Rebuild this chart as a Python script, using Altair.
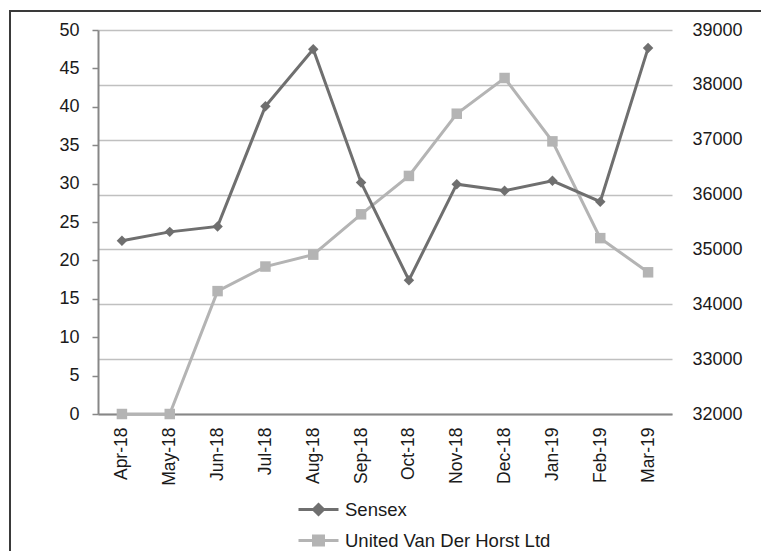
import altair as alt
import pandas as pd

months = ["Apr-18", "May-18", "Jun-18", "Jul-18", "Aug-18", "Sep-18",
          "Oct-18", "Nov-18", "Dec-18", "Jan-19", "Feb-19", "Mar-19"]
sensex = [35160, 35320, 35420, 37610, 38650, 36220,
          34440, 36190, 36070, 36250, 35870, 38670]
united = [0, 0, 16.0, 19.2, 20.75, 26.0, 31.0, 39.1, 43.75, 35.5, 22.9, 18.45]
series = ["Sensex", "United Van Der Horst Ltd"]
colors = ["#6f6f6f", "#b4b4b4"]
left_ticks = list(range(0, 51, 5))
right_ticks = list(range(32000, 39001, 1000))

FONT = "Liberation Sans"
TXT = "#1a1a1a"
AXIS_GREY = "#878787"

df = pd.DataFrame({"month": months, "sensex": sensex, "united": united})
legend_df = pd.DataFrame({"series": series})

diamond_path = "M-2,0H2M-0.5,0L0,-0.5L0.5,0L0,0.5Z"
square_path = "M-2,0H2M-0.5,-0.45H0.5V0.45H-0.5Z"

legend = alt.Legend(
    title=None, orient="none", legendX=209, legendY=468, padding=0,
    direction="vertical", symbolSize=400, symbolStrokeWidth=3,
    symbolOpacity=1, labelOffset=15, rowPadding=8, labelFont=FONT,
    labelFontSize=18.5, labelColor=TXT, labelLimit=400,
)

x_enc = alt.X("month:O", sort=months, title=None, scale=alt.Scale(padding=0.5),
              axis=alt.Axis(labelAngle=-90, ticks=False, labelPadding=13,
                            domainColor=AXIS_GREY, domainWidth=2, grid=False,
                            labelFont=FONT, labelFontSize=17.5, labelColor=TXT))

y_sensex = alt.Y("sensex:Q", title=None,
                 scale=alt.Scale(domain=[32000, 39000], nice=False, zero=False),
                 axis=alt.Axis(orient="right", values=right_ticks, format="d",
                               domain=False, ticks=False, labelPadding=20,
                               grid=True, gridColor="#c0c0c0", gridWidth=1.5,
                               labelFont=FONT, labelFontSize=18, labelColor=TXT))
y_united = alt.Y("united:Q", title=None,
                 scale=alt.Scale(domain=[0, 50], nice=False),
                 axis=alt.Axis(orient="left", values=left_ticks, grid=False,
                               domainColor=AXIS_GREY, domainWidth=2,
                               tickColor=AXIS_GREY, tickWidth=1.5, tickSize=6,
                               labelPadding=13, labelFont=FONT, labelFontSize=18,
                               labelColor=TXT))

base = alt.Chart(df)

sensex_line = base.mark_line(color=colors[0], strokeWidth=3).encode(x=x_enc, y=y_sensex)
sensex_pts = base.mark_point(filled=True, shape="diamond", size=110, opacity=1,
                             color=colors[0]).encode(x=x_enc, y=y_sensex)
sensex_layer = alt.layer(sensex_line, sensex_pts)

united_line = base.mark_line(color=colors[1], strokeWidth=3).encode(x=x_enc, y=y_united)
united_pts = base.mark_point(filled=True, shape="square", size=110, opacity=1,
                             color=colors[1]).encode(x=x_enc, y=y_united)
united_layer = alt.layer(united_line, united_pts)

legend_layer = alt.Chart(legend_df).mark_point(filled=True, opacity=1).encode(
    x=alt.value(-2000), y=alt.value(-2000),
    fill=alt.Fill("series:N", scale=alt.Scale(domain=series, range=colors), legend=legend),
    stroke=alt.Stroke("series:N", scale=alt.Scale(domain=series, range=colors), legend=legend),
    shape=alt.Shape("series:N", scale=alt.Scale(domain=series, range=[diamond_path, square_path]),
                    legend=legend),
)

frame_df = pd.DataFrame({"k": [0]})
left_border = alt.Chart(frame_df).mark_rule(color="#3a3a3a", strokeWidth=2).encode(
    x=alt.value(-88), y=alt.value(-19), y2=alt.value(540))
top_border = alt.Chart(frame_df).mark_rule(color="#3a3a3a", strokeWidth=2).encode(
    x=alt.value(-89), x2=alt.value(700), y=alt.value(-19))

chart = alt.layer(united_layer, sensex_layer, legend_layer, left_border, top_border).resolve_scale(
    y="independent"
).properties(
    width=574, height=384,
    autosize=alt.AutoSizeParams(type="none"),
    padding={"left": 90, "top": 22, "right": 89, "bottom": 137},
).configure_view(stroke=None)

chart.save("out.html", embed_options={"renderer": "svg", "actions": False})
